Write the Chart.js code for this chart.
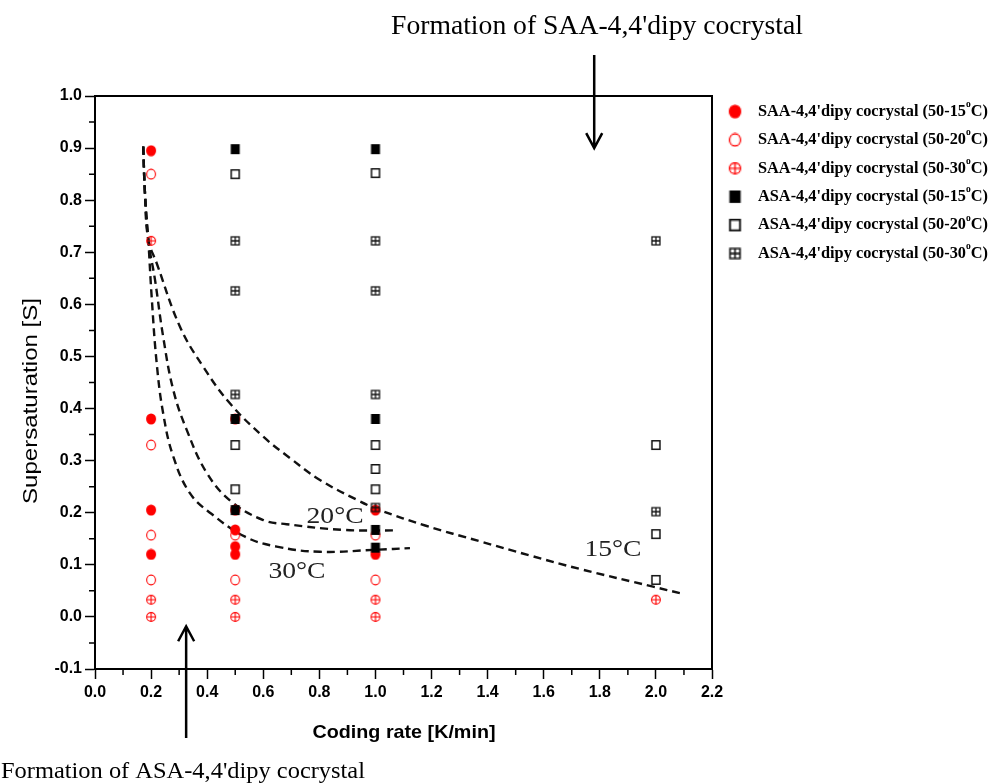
<!DOCTYPE html>
<html>
<head>
<meta charset="utf-8">
<script src="https://cdn.jsdelivr.net/npm/chart.js@4.4.1/dist/chart.umd.min.js"></script>
<style>
  html, body { margin: 0; padding: 0; background: #ffffff; overflow: hidden; }
  #wrap { position: relative; width: 992px; height: 783px; }
</style>
</head>
<body>
<div id="wrap"><canvas id="chart" width="992" height="783"></canvas></div>
<script>
// ---- measured points: [cooling rate (K/min), supersaturation S] ----
const saa15 = [[0.2,0.895],[0.2,0.38],[0.2,0.205],[0.2,0.12],[0.5,0.38],[0.5,0.205],[0.5,0.167],[0.5,0.135],[0.5,0.12],[1.0,0.205],[1.0,0.12]];
const saa20 = [[0.2,0.85],[0.2,0.33],[0.2,0.157],[0.2,0.071],[0.5,0.157],[0.5,0.071],[1.0,0.157],[1.0,0.071]];
const saa30 = [[0.2,0.722],[0.2,0.033],[0.2,0.0],[0.5,0.033],[0.5,0.0],[1.0,0.033],[1.0,0.0],[2.0,0.033]];
const asa15 = [[0.5,0.898],[0.5,0.38],[0.5,0.205],[1.0,0.898],[1.0,0.38],[1.0,0.167],[1.0,0.133]];
const asa20 = [[0.5,0.85],[0.5,0.33],[0.5,0.245],[1.0,0.852],[1.0,0.33],[1.0,0.284],[1.0,0.245],[2.0,0.33],[2.0,0.159],[2.0,0.071]];
const asa30 = [[0.5,0.722],[0.5,0.626],[0.5,0.427],[1.0,0.722],[1.0,0.626],[1.0,0.427],[1.0,0.21],[2.0,0.722],[2.0,0.202]];

// ---- boundary curves between the two cocrystal regions ----
const curve15 = [[0.172,0.903],[0.178,0.815],[0.19,0.724],[0.22,0.679],[0.303,0.557],[0.386,0.48],[0.481,0.41],[0.6,0.346],[0.695,0.305],[0.802,0.263],[0.933,0.225],[1.016,0.205],[1.18,0.175],[1.373,0.145],[1.55,0.118],[1.729,0.092],[1.99,0.058],[2.09,0.045]];
const curve20 = [[0.172,0.903],[0.178,0.815],[0.19,0.724],[0.214,0.647],[0.243,0.538],[0.279,0.436],[0.327,0.359],[0.4,0.275],[0.487,0.221],[0.6,0.186],[0.683,0.178],[0.885,0.167],[1.08,0.166]];
const curve30 = [[0.172,0.903],[0.178,0.815],[0.19,0.724],[0.202,0.615],[0.22,0.487],[0.243,0.391],[0.279,0.308],[0.339,0.237],[0.415,0.198],[0.535,0.154],[0.648,0.135],[0.802,0.125],[1.004,0.129],[1.123,0.132]];

// ---- text ----
const seriesNames = ["SAA-4,4'dipy cocrystal", "SAA-4,4'dipy cocrystal", "SAA-4,4'dipy cocrystal",
                     "ASA-4,4'dipy cocrystal", "ASA-4,4'dipy cocrystal", "ASA-4,4'dipy cocrystal"];
const seriesRanges = ["50-15", "50-20", "50-30", "50-15", "50-20", "50-30"];
const curveTags = ["15°C", "20°C", "30°C"];
const xTickValues = [0.0, 0.2, 0.4, 0.6, 0.8, 1.0, 1.2, 1.4, 1.6, 1.8, 2.0, 2.2];
const yTickValues = [-0.1, 0.0, 0.1, 0.2, 0.3, 0.4, 0.5, 0.6, 0.7, 0.8, 0.9, 1.0];
const xTitle = "Coding rate [K/min]";
const yTitle = "Supersaturation [S]";
const topNote = "Formation of SAA-4,4'dipy cocrystal";
const bottomNote = "Formation of ASA-4,4'dipy cocrystal";

// where the curve tags and the two arrows sit (data units)
const tagAnchors = [[1.847, 0.129], [0.856, 0.192], [0.72, 0.086]];
const topArrowAt = [1.78, 0.9];
const bottomArrowAt = [0.325, -0.018];

const RED = '#ff0000';
const SANS = '"Liberation Sans", Arial, sans-serif';
const SERIF = '"Liberation Serif", "Times New Roman", serif';

// ---- marker glyphs ----
function glyph(draw) {
  const c = document.createElement('canvas');
  c.width = 12; c.height = 12;
  draw(c.getContext('2d'));
  return c;
}
const mFilledCircle = glyph(g => { g.fillStyle = RED; g.beginPath(); g.ellipse(6, 6, 5, 5.5, 0, 0, Math.PI * 2); g.fill(); });
const mOpenCircle = glyph(g => { g.strokeStyle = RED; g.lineWidth = 1.1; g.beginPath(); g.ellipse(6, 6, 4.4, 4.9, 0, 0, Math.PI * 2); g.stroke(); });
const mCrossCircle = glyph(g => {
  g.strokeStyle = RED; g.lineWidth = 1.1;
  g.beginPath(); g.ellipse(6, 6, 4.4, 4.4, 0, 0, Math.PI * 2); g.stroke();
  g.beginPath(); g.moveTo(1.6, 6); g.lineTo(10.4, 6); g.moveTo(6, 1.6); g.lineTo(6, 10.4); g.stroke();
});
const mFilledSquare = glyph(g => { g.fillStyle = '#000'; g.fillRect(1.5, 1, 9, 10); });
const mOpenSquare = glyph(g => { g.strokeStyle = '#111'; g.lineWidth = 1.5; g.strokeRect(2, 1.75, 8, 8.5); });
const mCrossSquare = glyph(g => {
  g.strokeStyle = '#111'; g.lineWidth = 1.3;
  g.strokeRect(2, 2, 8, 8);
  g.beginPath(); g.moveTo(2, 6); g.lineTo(10, 6); g.moveTo(6, 2); g.lineTo(6, 10); g.stroke();
});
const seriesGlyphs = [mFilledCircle, mOpenCircle, mCrossCircle, mFilledSquare, mOpenSquare, mCrossSquare];
const seriesData = [saa15, saa20, saa30, asa15, asa20, asa30];

const toXY = arr => arr.map(([x, y]) => ({ x, y }));

const pointSets = seriesData.map((d, i) => ({
  label: `${seriesNames[i]} (${seriesRanges[i]}°C)`,
  data: toXY(d),
  pointStyle: seriesGlyphs[i],
  pointRadius: 6,
  pointHoverRadius: 6,
  showLine: false,
  order: i < 3 ? 1 : 0
}));

const curveSets = [curve15, curve20, curve30].map((d, i) => ({
  label: curveTags[i],
  data: toXY(d),
  showLine: true,
  borderColor: '#111',
  borderWidth: 2.4,
  borderDash: [8, 5],
  pointRadius: 0,
  pointHoverRadius: 0,
  tension: 0.4,
  fill: false,
  order: 2
}));

// ---- decorations: frame, minor ticks, titles, curve tags, notes, arrows, legend ----
function supLabel(ctx, x, y, name, range, maxW) {
  const big = `bold 17px ${SERIF}`, small = `bold 10px ${SERIF}`;
  const a = `${name} (${range}`, b = 'C)';
  ctx.font = big; const wa = ctx.measureText(a).width; const wb = ctx.measureText(b).width;
  ctx.font = small; const wo = ctx.measureText('o').width;
  const s = Math.min(1, maxW / (wa + wo + wb));
  ctx.save();
  ctx.translate(x, y); ctx.scale(s, 1);
  ctx.fillStyle = '#000'; ctx.textAlign = 'left'; ctx.textBaseline = 'middle';
  ctx.font = big; ctx.fillText(a, 0, 0);
  ctx.font = small; ctx.fillText('o', wa, -7);
  ctx.font = big; ctx.fillText(b, wa + wo, 0);
  ctx.restore();
}

// text stretched or squeezed to a given length
function fitText(ctx, text, cx, cy, len, rot) {
  const w = ctx.measureText(text).width;
  ctx.save();
  ctx.translate(cx, cy); ctx.rotate(rot); ctx.scale(len / w, 1);
  ctx.textAlign = 'center'; ctx.textBaseline = 'middle';
  ctx.fillText(text, 0, 0);
  ctx.restore();
}

function arrow(ctx, x, y0, y1) {
  // shaft from y0 to tip at y1, open V head at the tip
  const dir = Math.sign(y1 - y0);
  ctx.beginPath();
  ctx.moveTo(x, y0); ctx.lineTo(x, y1);
  ctx.moveTo(x - 8, y1 - dir * 15); ctx.lineTo(x, y1); ctx.lineTo(x + 8, y1 - dir * 15);
  ctx.stroke();
}

const decor = {
  id: 'decor',
  afterDraw(chart) {
    const { ctx, chartArea: a, scales: { x, y } } = chart;
    ctx.save();
    // closing frame
    ctx.strokeStyle = '#000'; ctx.lineWidth = 2;
    ctx.strokeRect(a.left, a.top, a.right - a.left, a.bottom - a.top);
    // minor ticks
    ctx.lineWidth = 1.5;
    ctx.beginPath();
    for (let i = 0; i < xTickValues.length - 1; i++) {
      const px = x.getPixelForValue((xTickValues[i] + xTickValues[i + 1]) / 2);
      ctx.moveTo(px, a.bottom); ctx.lineTo(px, a.bottom + 6);
    }
    for (let i = 0; i < yTickValues.length - 1; i++) {
      const py = y.getPixelForValue((yTickValues[i] + yTickValues[i + 1]) / 2);
      ctx.moveTo(a.left, py); ctx.lineTo(a.left - 6, py);
    }
    ctx.stroke();

    // axis titles
    ctx.fillStyle = '#000';
    ctx.font = `bold 19px ${SANS}`;
    fitText(ctx, xTitle, 404, 733, 183, 0);
    ctx.font = `20px ${SANS}`;
    fitText(ctx, yTitle, 31, 401, 206, -Math.PI / 2);

    // curve tags
    ctx.fillStyle = '#222'; ctx.textAlign = 'center'; ctx.textBaseline = 'middle';
    ctx.font = `24px ${SERIF}`;
    curveTags.forEach((t, i) => {
      const px = x.getPixelForValue(tagAnchors[i][0]), py = y.getPixelForValue(tagAnchors[i][1]);
      ctx.save(); ctx.translate(px, py); ctx.scale(1.15, 1); ctx.fillText(t, 0, 0); ctx.restore();
    });

    // notes and arrows
    ctx.fillStyle = '#000';
    ctx.font = `27px ${SERIF}`;
    fitText(ctx, topNote, 597, 27, 412, 0);
    ctx.font = `24px ${SERIF}`;
    fitText(ctx, bottomNote, 183, 772, 364, 0);
    ctx.strokeStyle = '#000'; ctx.lineWidth = 2.5;
    arrow(ctx, x.getPixelForValue(topArrowAt[0]), 55, y.getPixelForValue(topArrowAt[1]));
    arrow(ctx, x.getPixelForValue(bottomArrowAt[0]), 738, y.getPixelForValue(bottomArrowAt[1]));

    // legend
    seriesGlyphs.forEach((gl, i) => {
      const cy = 111.5 + i * 28.4;
      ctx.drawImage(gl, 735 - 7.5, cy - 7.5, 15, 15);
      supLabel(ctx, 758, cy, seriesNames[i], seriesRanges[i], 230);
    });
    ctx.restore();
  }
};

const fmt = v => (Math.round(v * 10) / 10).toFixed(1);

new Chart(document.getElementById('chart'), {
  type: 'scatter',
  data: { datasets: [...pointSets, ...curveSets] },
  options: {
    responsive: false,
    animation: false,
    events: [],
    layout: { padding: { left: 0, right: 280, top: 96, bottom: 0 } },
    plugins: { legend: { display: false }, tooltip: { enabled: false } },
    scales: {
      x: {
        type: 'linear',
        min: xTickValues[0], max: xTickValues[xTickValues.length - 1],
        afterBuildTicks: s => { s.ticks = xTickValues.map(v => ({ value: v })); },
        afterFit: s => { s.height = 114; },
        ticks: { callback: fmt, color: '#000', padding: 4, maxRotation: 0, autoSkip: false,
                 font: { family: SANS, size: 16, weight: 'bold' } },
        grid: { drawOnChartArea: false, drawTicks: true, tickLength: 10, tickWidth: 1.5, tickColor: '#000' },
        border: { display: true, color: '#000', width: 2 },
        title: { display: false }
      },
      y: {
        type: 'linear',
        min: yTickValues[0], max: yTickValues[yTickValues.length - 1],
        afterBuildTicks: s => { s.ticks = yTickValues.map(v => ({ value: v })); },
        afterFit: s => { s.width = 95; },
        ticks: { callback: fmt, color: '#000', padding: 3, autoSkip: false,
                 font: { family: SANS, size: 16, weight: 'bold' } },
        grid: { drawOnChartArea: false, drawTicks: true, tickLength: 10, tickWidth: 1.5, tickColor: '#000' },
        border: { display: true, color: '#000', width: 2 },
        title: { display: false }
      }
    }
  },
  plugins: [decor]
});
</script>
</body>
</html>
